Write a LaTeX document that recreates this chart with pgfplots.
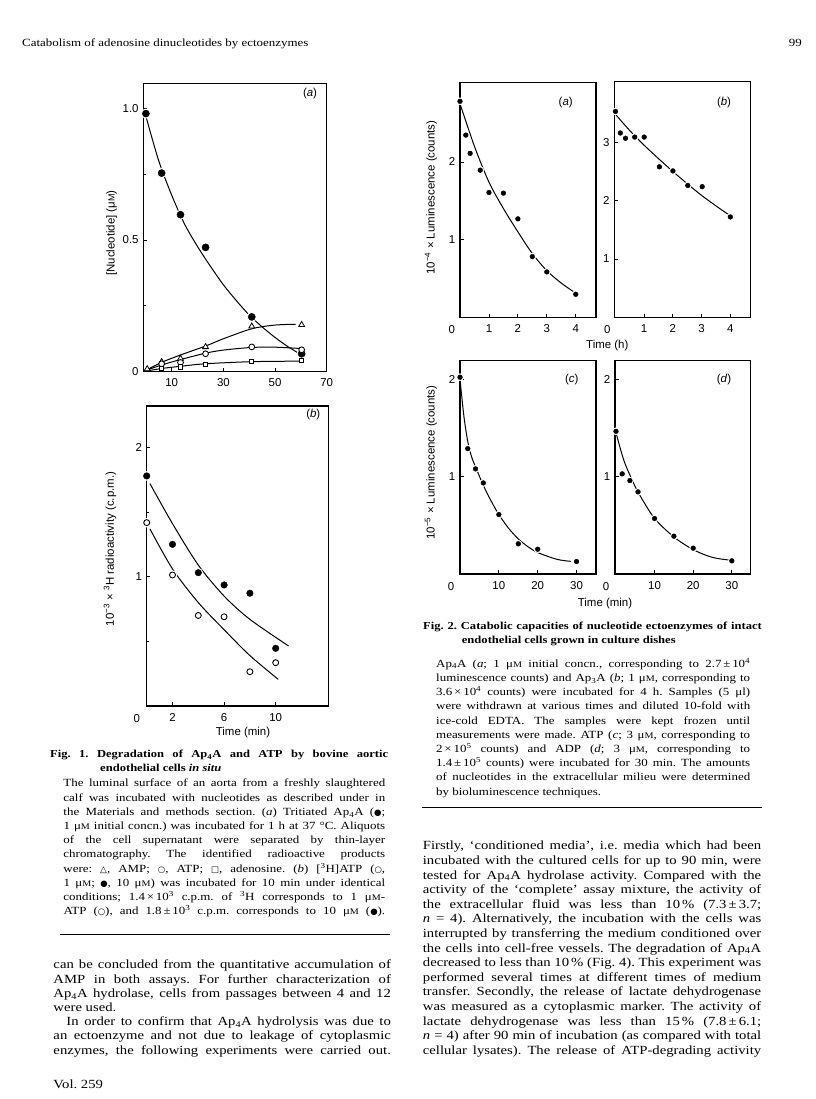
\documentclass[border=0pt]{standalone}
\usepackage{fontspec}
\setmainfont{Liberation Serif}[FakeStretch=1.18]
\newfontfamily\plotfont{Liberation Sans}
\newfontfamily\symfont{DejaVu Sans}
\usepackage{pgfplots}
\pgfplotsset{compat=1.18}

\newcommand\uM{μ\scalebox{0.78}{M}}
\newcommand\Sfc{{\symfont\fontsize{8.5}{10}\selectfont ●}}
\newcommand\Soc{{\symfont\fontsize{8.5}{10}\selectfont ○}}
\newcommand\Str{{\symfont\fontsize{9}{10}\selectfont △}}
\newcommand\Ssq{{\symfont\fontsize{8.5}{10}\selectfont □}}
\newcommand\pf{\plotfont\fontsize{11.5}{13}\selectfont}
\newlength\colw
\newcommand\J[1]{\hbox to \colw{#1}}
\newcommand\R[1]{\hbox to \colw{#1\hfil}}

\pgfplotsset{
 pg/.style={scale only axis, anchor=south west, clip=false,
   axis line style={line width=1.1bp},
   tick style={black, line width=0.8bp},
   tick align=inside, xtick pos=bottom, ytick pos=left,
   major tick length=3.5bp, minor tick length=2.5bp,
   tick label style={font=\pf},
   /pgf/number format/assume math mode=true,
   xticklabel shift=3.5bp, yticklabel shift=1.2bp},
 curve/.style={black, line width=1bp, smooth, mark=none},
 halo/.style={only marks, mark=*, white, mark size=#1},
}

\begin{document}
\frenchspacing
\begin{tikzpicture}[x=1bp,y=1bp]
\fill[white] (0,0) rectangle (816,1099);
\path[use as bounding box] (0,0) rectangle (816,1099);

% ---------------- Header
\node[anchor=base west, inner sep=0, font=\fontsize{11}{13}\selectfont] at (22,1052) {Catabolism of adenosine dinucleotides by ectoenzymes};
\node[anchor=base east, inner sep=0, font=\fontsize{11}{13}\selectfont] at (802,1052) {99};

% ---------------- Fig 1(a)
\begin{axis}[pg, at={(143.3bp,727.3bp)}, width=183.4bp, height=288.4bp,
  xmin=-1, xmax=70, ymin=0, ymax=1.095,
  xtick={10,30,50,70}, ytick={0,0.5,1}, yticklabels={0,0.5,1.0},
  minor ytick={0.25,0.75}]
\addplot[curve] coordinates {(0,0.97)(5,0.8)(10,0.67)(15,0.56)(20,0.475)(25,0.4)(30,0.33)(35,0.27)(40,0.215)(45,0.17)(50,0.13)(55,0.095)(60,0.065)};
\addplot[curve] coordinates {(0,0.005)(6,0.035)(13,0.062)(23,0.097)(30,0.125)(41,0.163)(50,0.177)(58,0.18)};
\addplot[curve] coordinates {(0,0.005)(6,0.025)(13,0.045)(23,0.07)(30,0.082)(41,0.092)(50,0.093)(60,0.088)};
\addplot[curve] coordinates {(0,0.002)(6,0.012)(13,0.02)(23,0.03)(41,0.038)(60,0.04)};
\addplot[halo=4.8] coordinates {(0,0.98)(6.1,0.754)(13.4,0.596)(23.1,0.472)(41,0.208)(60.3,0.068)};
\addplot[only marks, mark=*, mark size=3.6, black] coordinates {(0,0.98)(6.1,0.754)(13.4,0.596)(23.1,0.472)(41,0.208)(60.3,0.068)};
\addplot[only marks, mark=triangle*, mark size=3.4, mark options={fill=white, draw=black, line width=0.8bp}] coordinates {(0.5,0.01)(6.1,0.037)(13.4,0.05)(23.1,0.094)(41,0.172)(60.3,0.178)};
\addplot[only marks, mark=*, mark size=2.9, mark options={fill=white, draw=black, line width=0.9bp}] coordinates {(6.1,0.03)(13.4,0.035)(23.1,0.068)(41,0.094)(60.3,0.083)};
\addplot[only marks, mark=square*, mark size=2.1, mark options={fill=white, draw=black, line width=0.8bp}] coordinates {(6.1,0.014)(13.4,0.018)(23.1,0.029)(41,0.039)(60.3,0.042)};
\end{axis}
\node[font=\pf] at (310,1005) {(\textit{a})};
\node[rotate=90, font=\pf] at (111.7,866) {[Nucleotide] (\uM)};

% ---------------- Fig 1(b)
\begin{axis}[pg, at={(146.7bp,393bp)}, width=181.6bp, height=300bp,
  xmin=0, xmax=14.08, ymin=0, ymax=2.32,
  xtick={2,6,10}, ytick={1,2}, minor ytick={0.5,1.5}]
\addplot[curve] coordinates {(0.25,1.72)(2,1.41)(4,1.09)(6,0.85)(8,0.67)(11,0.464)};
\addplot[curve] coordinates {(0.25,1.37)(2,1.06)(4,0.8)(6,0.59)(8,0.39)(10.2,0.206)};
\addplot[halo=4.5] coordinates {(0,1.779)(2,1.25)(4,1.031)(6,0.936)(8,0.872)(10,0.446)(0,1.418)(2,1.013)(4,0.70)(6,0.69)(8,0.265)(10,0.335)};
\addplot[only marks, mark=*, mark size=3.3, black] coordinates {(0,1.779)(2,1.25)(4,1.031)(6,0.936)(8,0.872)(10,0.446)};
\addplot[only marks, mark=*, mark size=3.0, mark options={fill=white, draw=black, line width=0.9bp}] coordinates {(0,1.418)(2,1.013)(4,0.70)(6,0.69)(8,0.265)(10,0.335)};
\node[font=\pf] at (rel axis cs:0,0) [xshift=-10bp, yshift=-12.3bp] {0};
\end{axis}
\node[font=\pf] at (313.3,684) {(\textit{b})};
\node[rotate=90, font=\pf] at (110,550) {10\textsuperscript{−3} × \textsuperscript{3}H radioactivity (c.p.m.)};
\node[font=\pf] at (243,366.3) {Time (min)};

% ---------------- Fig 2(a)
\begin{axis}[pg, at={(460bp,781.7bp)}, width=136bp, height=234.6bp,
  xmin=0, xmax=4.7, ymin=0, ymax=3.02,
  xtick={1,2,3,4}, ytick={1,2}]
\addplot[curve] coordinates {(0,2.75)(0.5,2.2)(1,1.74)(1.5,1.4)(2,1.1)(2.5,0.82)(3,0.6)(3.5,0.44)(4,0.31)};
\addplot[halo=3.6] coordinates {(0,2.78)(0.2,2.345)(0.35,2.11)(0.7,1.894)(1,1.606)(1.5,1.598)(2,1.267)(2.5,0.781)(3,0.584)(4,0.296)};
\addplot[only marks, mark=*, mark size=2.4, black] coordinates {(0,2.78)(0.2,2.345)(0.35,2.11)(0.7,1.894)(1,1.606)(1.5,1.598)(2,1.267)(2.5,0.781)(3,0.584)(4,0.296)};
\node[font=\pf] at (rel axis cs:0,0) [xshift=-8.3bp, yshift=-12.3bp] {0};
\end{axis}
\node[font=\pf] at (565.7,996.3) {(\textit{a})};

% ---------------- Fig 2(b)
\begin{axis}[pg, at={(614.3bp,781.7bp)}, width=136.4bp, height=235.6bp,
  xmin=-0.04, xmax=4.71, ymin=0, ymax=4.04,
  xtick={1,2,3,4}, ytick={1,2,3}]
\addplot[curve] coordinates {(0,3.48)(0.5,3.2)(1,2.95)(1.5,2.72)(2,2.5)(2.5,2.29)(3,2.09)(3.5,1.91)(4,1.74)};
\addplot[halo=3.6] coordinates {(0,3.53)(0.17,3.16)(0.35,3.07)(0.67,3.09)(1,3.09)(1.53,2.58)(2,2.51)(2.52,2.26)(3.02,2.24)(4,1.72)};
\addplot[only marks, mark=*, mark size=2.4, black] coordinates {(0,3.53)(0.17,3.16)(0.35,3.07)(0.67,3.09)(1,3.09)(1.53,2.58)(2,2.51)(2.52,2.26)(3.02,2.24)(4,1.72)};
\node[font=\pf] at (rel axis cs:0,0) [xshift=-7bp, yshift=-12.3bp] {0};
\end{axis}
\node[font=\pf] at (724,996.3) {(\textit{b})};
\node[font=\pf] at (607.3,753) {Time (h)};
\node[rotate=90, font=\pf] at (431,901.5) {10\textsuperscript{−4} × Luminescence (counts)};

% ---------------- Fig 2(c)
\begin{axis}[pg, at={(460bp,525bp)}, width=136bp, height=213.3bp,
  xmin=0, xmax=35, ymin=0, ymax=2.19,
  xtick={10,20,30}, ytick={1,2}]
\addplot[curve] coordinates {(0,2.0)(1,1.62)(2,1.36)(3,1.2)(4,1.1)(6,0.91)(8,0.75)(10,0.61)(12.5,0.47)(15,0.36)(17.5,0.28)(20,0.22)(25,0.15)(28.5,0.13)};
\addplot[halo=3.6] coordinates {(0,2.02)(2,1.287)(4,1.079)(6,0.935)(10,0.61)(15,0.31)(20,0.254)(30,0.128)};
\addplot[only marks, mark=*, mark size=2.4, black] coordinates {(0,2.02)(2,1.287)(4,1.079)(6,0.935)(10,0.61)(15,0.31)(20,0.254)(30,0.128)};
\node[font=\pf] at (rel axis cs:0,0) [xshift=-9bp, yshift=-12.7bp] {0};
\end{axis}
\node[font=\pf] at (571.7,719.7) {(\textit{c})};

% ---------------- Fig 2(d)
\begin{axis}[pg, at={(615bp,525bp)}, width=135.7bp, height=213.3bp,
  xmin=-0.26, xmax=34.9, ymin=0, ymax=2.19,
  xtick={10,20,30}, ytick={1,2}]
\addplot[curve] coordinates {(0,1.45)(2,1.17)(4,0.98)(6,0.82)(10,0.57)(15,0.38)(20,0.25)(25,0.17)(30,0.14)};
\addplot[halo=3.6] coordinates {(0,1.465)(1.6,1.028)(3.6,0.959)(5.7,0.843)(10,0.569)(15,0.388)(20,0.265)(30,0.135)};
\addplot[only marks, mark=*, mark size=2.4, black] coordinates {(0,1.465)(1.6,1.028)(3.6,0.959)(5.7,0.843)(10,0.569)(15,0.388)(20,0.265)(30,0.135)};
\node[font=\pf] at (rel axis cs:0,0) [xshift=-9bp, yshift=-12.7bp] {0};
\end{axis}
\node[font=\pf] at (724,719.7) {(\textit{d})};
\node[font=\pf] at (605,495) {Time (min)};
\node[rotate=90, font=\pf] at (431,636.5) {10\textsuperscript{−5} × Luminescence (counts)};

% ---------------- Fig 1 title + legend
\node[anchor=base west, inner sep=0] at (50,341) {\vtop{\fontsize{10.7}{13.5}\selectfont\bfseries
  \baselineskip=13.5bp \lineskiplimit=-100bp \setlength\colw{338bp}
  \J{Fig. 1. Degradation of Ap\textsubscript{4}A and ATP by bovine aortic}
  \R{\kern 50bp endothelial cells \textit{in situ}}}};
\node[anchor=base west, inner sep=0] at (63.3,312) {\vtop{\fontsize{11}{14.2}\selectfont
  \baselineskip=14.2bp \lineskiplimit=-100bp \setlength\colw{321.7bp}
  \J{The luminal surface of an aorta from a freshly slaughtered}
  \J{calf was incubated with nucleotides as described under in}
  \J{the Materials and methods section. (\textit{a}) Tritiated Ap\textsubscript{4}A (\Sfc;}
  \J{1 \uM{} initial concn.) was incubated for 1 h at 37 °C. Aliquots}
  \J{of the cell supernatant were separated by thin-layer}
  \J{chromatography. The identified radioactive products}
  \J{were: \Str, AMP; \Soc, ATP; \Ssq, adenosine. (\textit{b}) [\textsuperscript{3}H]ATP (\Soc,}
  \J{1 \uM; \Sfc, 10 \uM) was incubated for 10 min under identical}
  \J{conditions; 1.4\,×\,10\textsuperscript{3} c.p.m. of \textsuperscript{3}H corresponds to 1 \uM-}
  \J{ATP (\Soc), and 1.8\,±\,10\textsuperscript{3} c.p.m. corresponds to 10 \uM{} (\Sfc).}}};
\draw[line width=1bp] (60,164) -- (390,164);

% ---------------- Left body
\node[anchor=base west, inner sep=0] at (53.3,130) {\vtop{\fontsize{12.5}{14.2}\selectfont
  \baselineskip=14.2bp \lineskiplimit=-100bp \setlength\colw{337.4bp}
  \J{can be concluded from the quantitative accumulation of}
  \J{AMP in both assays. For further characterization of}
  \J{Ap\textsubscript{4}A hydrolase, cells from passages between 4 and 12}
  \R{were used.}
  \J{\kern 13bp In order to confirm that Ap\textsubscript{4}A hydrolysis was due to}
  \J{an ectoenzyme and not due to leakage of cytoplasmic}
  \J{enzymes, the following experiments were carried out.}}};
\node[anchor=base west, inner sep=0, font=\fontsize{12.5}{14}\selectfont] at (53.3,10) {Vol. 259};

% ---------------- Fig 2 title + legend
\node[anchor=base west, inner sep=0] at (423,469) {\vtop{\fontsize{10.7}{13.5}\selectfont\bfseries
  \baselineskip=14bp \lineskiplimit=-100bp \setlength\colw{338.7bp}
  \J{Fig. 2. Catabolic capacities of nucleotide ectoenzymes of intact}
  \R{\kern 38.7bp endothelial cells grown in culture dishes}}};
\node[anchor=base west, inner sep=0] at (436,431.7) {\vtop{\fontsize{11}{14.2}\selectfont
  \baselineskip=14.2bp \lineskiplimit=-100bp \setlength\colw{314bp}
  \J{Ap\textsubscript{4}A (\textit{a}; 1 \uM{} initial concn., corresponding to 2.7\,±\,10\textsuperscript{4}}
  \J{luminescence counts) and Ap\textsubscript{3}A (\textit{b}; 1 \uM, corresponding to}
  \J{3.6\,×\,10\textsuperscript{4} counts) were incubated for 4 h. Samples (5 μl)}
  \J{were withdrawn at various times and diluted 10-fold with}
  \J{ice-cold EDTA. The samples were kept frozen until}
  \J{measurements were made. ATP (\textit{c}; 3 \uM, corresponding to}
  \J{2\,×\,10\textsuperscript{5} counts) and ADP (\textit{d}; 3 \uM, corresponding to}
  \J{1.4\,±\,10\textsuperscript{5} counts) were incubated for 30 min. The amounts}
  \J{of nucleotides in the extracellular milieu were determined}
  \R{by bioluminescence techniques.}}};
\draw[line width=1bp] (421.7,291.7) -- (761.7,291.7);

% ---------------- Right body
\node[anchor=base west, inner sep=0] at (422.7,249) {\vtop{\fontsize{12.5}{14.6}\selectfont
  \baselineskip=14.6bp \lineskiplimit=-100bp \setlength\colw{338.3bp}
  \J{Firstly, `conditioned media', i.e. media which had been}
  \J{incubated with the cultured cells for up to 90 min, were}
  \J{tested for Ap\textsubscript{4}A hydrolase activity. Compared with the}
  \J{activity of the `complete' assay mixture, the activity of}
  \J{the extracellular fluid was less than 10\,\% (7.3\,±\,3.7;}
  \J{\textit{n} = 4). Alternatively, the incubation with the cells was}
  \J{interrupted by transferring the medium conditioned over}
  \J{the cells into cell-free vessels. The degradation of Ap\textsubscript{4}A}
  \J{decreased to less than 10\,\% (Fig. 4). This experiment was}
  \J{performed several times at different times of medium}
  \J{transfer. Secondly, the release of lactate dehydrogenase}
  \J{was measured as a cytoplasmic marker. The activity of}
  \J{lactate dehydrogenase was less than 15\,\% (7.8\,±\,6.1;}
  \J{\textit{n} = 4) after 90 min of incubation (as compared with total}
  \J{cellular lysates). The release of ATP-degrading activity}}};
\end{tikzpicture}
\end{document}
